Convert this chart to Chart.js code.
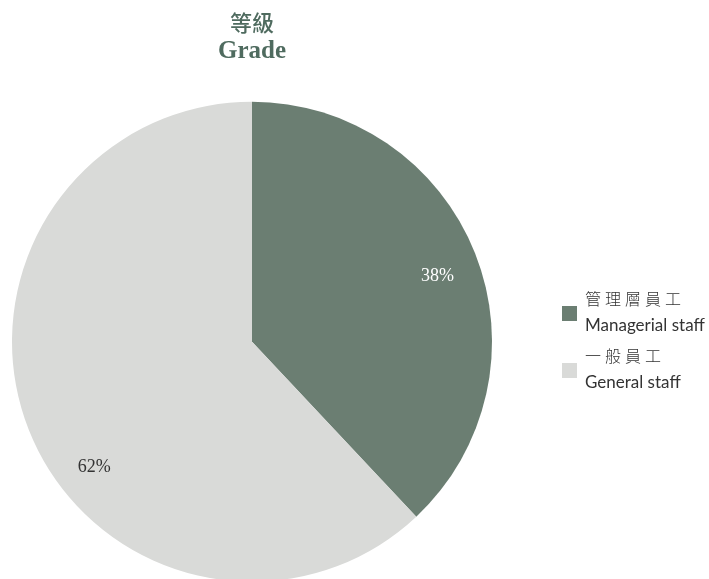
<!DOCTYPE html>
<html>
<head>
<meta charset="utf-8">
<script src="https://cdn.jsdelivr.net/npm/chart.js@4/dist/chart.umd.min.js"></script>
<style>
  html, body { margin: 0; padding: 0; background: #ffffff; overflow: hidden; }
  #wrap { width: 709px; height: 600px; }
</style>
</head>
<body>
<div id="wrap"><canvas id="c" width="709" height="600"></canvas></div>
<script>
// ---- data ----
const titleZh = '等級';
const titleEn = 'Grade';
const labelsZh = ['管理層員工', '一般員工'];
const labelsEn = ['Managerial staff', 'General staff'];
const values = [38, 62];
const colors = ['#6b7e72', '#d9dad8'];

// label placement styling per slice: [fraction along slice angle, fraction of radius]
const labelPlace = [[0.516, 0.82], [0.424, 0.84]];
const labelColors = ['#ffffff', '#333333'];

const sliceLabels = {
  id: 'sliceLabels',
  afterDatasetsDraw(chart) {
    const ctx = chart.ctx;
    const meta = chart.getDatasetMeta(0);
    ctx.save();
    ctx.font = '18px "Liberation Serif", serif';
    ctx.textAlign = 'center';
    ctx.textBaseline = 'middle';
    meta.data.forEach((arc, i) => {
      const p = arc.getProps(['x', 'y', 'startAngle', 'endAngle', 'outerRadius'], true);
      const a = p.startAngle + (p.endAngle - p.startAngle) * labelPlace[i][0];
      const r = p.outerRadius * labelPlace[i][1];
      ctx.fillStyle = labelColors[i];
      ctx.fillText(values[i] + '%', p.x + Math.cos(a) * r, p.y + Math.sin(a) * r);
    });
    ctx.restore();
  }
};

const sideLegend = {
  id: 'sideLegend',
  afterDraw(chart) {
    const ctx = chart.ctx;
    const boxX = 562, boxSize = 15, textX = 585;
    const firstTop = 290, step = 57;
    ctx.save();
    labelsZh.forEach((zh, i) => {
      const top = firstTop + i * step;
      ctx.fillStyle = colors[i];
      ctx.fillRect(boxX, top + 16, boxSize, boxSize);
      ctx.fillStyle = '#333333';
      ctx.textAlign = 'left';
      ctx.textBaseline = 'middle';
      ctx.font = '300 16px "Noto Sans CJK TC", sans-serif';
      if ('letterSpacing' in ctx) ctx.letterSpacing = '4px';
      ctx.fillText(zh, textX, top + 9);
      if ('letterSpacing' in ctx) ctx.letterSpacing = '0px';
      ctx.font = '17px "Lato", sans-serif';
      ctx.fillText(labelsEn[i], textX, top + 36);
    });
    ctx.restore();
  }
};

new Chart(document.getElementById('c'), {
  type: 'pie',
  data: {
    labels: labelsEn,
    datasets: [{
      data: values,
      backgroundColor: colors,
      borderWidth: 0,
      hoverOffset: 0
    }]
  },
  options: {
    responsive: false,
    animation: false,
    layout: { padding: { left: 12, right: 217, top: 0, bottom: 18 } },
    plugins: {
      legend: { display: false },
      tooltip: { enabled: false },
      title: {
        display: true,
        text: titleZh,
        color: '#4f6b5f',
        font: { family: '"Noto Sans CJK TC", sans-serif', size: 22, weight: '500', lineHeight: 1.2 },
        padding: { top: 9, bottom: 1 }
      },
      subtitle: {
        display: true,
        text: titleEn,
        color: '#4f6b5f',
        font: { family: '"Liberation Serif", serif', size: 25, weight: 'bold', lineHeight: 1.2 },
        padding: { top: 0, bottom: 35.1 }
      }
    }
  },
  plugins: [sliceLabels, sideLegend]
});
</script>
</body>
</html>
